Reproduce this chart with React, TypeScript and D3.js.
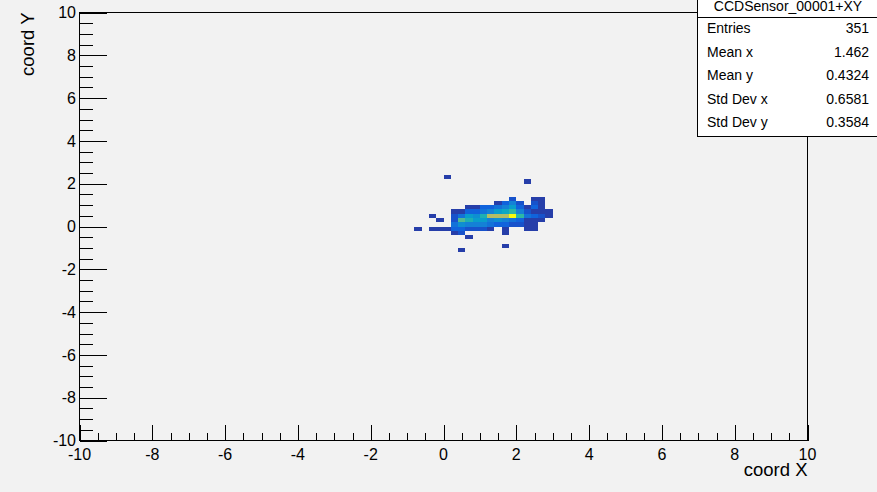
import React from 'react';
import * as d3 from 'd3';

// ---- data (TH2 with 0.2 x 0.2 bins) ----
const binWidth = 0.2;
const rowY = [2.2, 2.0, 1.2, 1.0, 0.8, 0.6, 0.4, 0.2, 0.0, -0.2, -0.4, -0.6, -1.0, -1.2];
const rowXs = [
  [0.0],
  [2.2],
  [1.8, 2.4, 2.6],
  [1.4, 1.6, 1.8, 2.0, 2.4, 2.6],
  [0.6, 0.8, 1.0, 1.2, 1.4, 1.6, 1.8, 2.0, 2.2, 2.4, 2.6],
  [0.2, 0.4, 0.6, 0.8, 1.0, 1.2, 1.4, 1.6, 1.8, 2.0, 2.2, 2.4, 2.6, 2.8],
  [-0.4, 0.2, 0.4, 0.6, 0.8, 1.0, 1.2, 1.4, 1.6, 1.8, 2.0, 2.2, 2.4, 2.6, 2.8],
  [-0.2, 0.2, 0.4, 0.6, 0.8, 1.0, 1.2, 1.4, 1.6, 1.8, 2.0, 2.2, 2.4, 2.6],
  [0.2, 0.4, 0.6, 0.8, 1.0, 1.2, 1.4, 1.6, 1.8, 2.0, 2.2, 2.4],
  [-0.8, -0.4, -0.2, 0.0, 0.2, 0.4, 0.6, 0.8, 1.0, 1.2, 1.6, 2.2, 2.4],
  [0.2, 0.4, 1.6],
  [0.6],
  [1.6],
  [0.4],
];
const rowCounts = [
  [1],
  [1],
  [2, 1, 1],
  [1, 3, 5, 2, 2, 1],
  [1, 1, 3, 3, 4, 5, 7, 3, 1, 3, 1],
  [1, 1, 3, 3, 4, 5, 7, 8, 10, 5, 2, 1, 1, 1],
  [1, 2, 4, 7, 6, 9, 15, 15, 15, 22, 10, 4, 3, 2, 1],
  [1, 2, 11, 9, 7, 7, 5, 6, 5, 4, 3, 1, 1, 1],
  [4, 6, 5, 5, 5, 4, 3, 3, 2, 2, 1, 1],
  [1, 1, 1, 1, 3, 3, 2, 2, 2, 1, 1, 1, 1],
  [1, 2, 1],
  [1],
  [1],
  [1],
];

const xTicks = [-10, -8, -6, -4, -2, 0, 2, 4, 6, 8, 10];
const yTicks = [-10, -8, -6, -4, -2, 0, 2, 4, 6, 8, 10];
const histTitle = 'CCDSensor_00001+XY';
const statLabels = ['Entries', 'Mean x', 'Mean y', 'Std Dev x', 'Std Dev y'];
const statValues = ['351', '1.462', '0.4324', '0.6581', '0.3584'];
const xTitle = 'coord X';
const yTitle = 'coord Y';

// ROOT kBird palette stops
const birdStops = [0, 0.125, 0.25, 0.375, 0.5, 0.625, 0.75, 0.875, 1];
const birdColors = [
  'rgb(53,42,135)', 'rgb(15,92,221)', 'rgb(20,129,214)', 'rgb(6,164,202)',
  'rgb(46,183,164)', 'rgb(135,191,119)', 'rgb(209,187,89)', 'rgb(254,200,50)', 'rgb(249,251,14)',
];

const FONT = "'Liberation Sans', Arial, Helvetica, sans-serif";

export default function App() {
  const W = 877, H = 492;
  const L = 79.5, R = 807.5, T = 12.5, B = 440.5;
  const x = d3.scaleLinear().domain([-10, 10]).range([L, R]);
  const y = d3.scaleLinear().domain([-10, 10]).range([B, T]);

  const cells: { x: number; y: number; c: number }[] = [];
  rowY.forEach((yy, i) => {
    rowXs[i].forEach((xx, j) => cells.push({ x: xx, y: yy, c: rowCounts[i][j] }));
  });
  const zmax = d3.max(cells, (d) => d.c) as number;
  const ndiv = 20;
  const pal = d3.scaleLinear<string>().domain(birdStops).range(birdColors).interpolate(d3.interpolateRgb);
  const color = (c: number) => {
    let lvl = Math.floor(0.01 + (c * ndiv) / zmax);
    if (lvl >= ndiv) lvl = ndiv - 1;
    return pal((lvl + 0.99) / ndiv);
  };

  const minorX: number[] = [];
  for (let v = -10; v <= 10.001; v += 0.5) if (Math.abs(v - Math.round(v / 2) * 2) > 1e-6) minorX.push(v);
  const minorY = minorX;

  const statRowY = [33, 57, 80, 104, 127];

  return (
    <svg width={W} height={H} style={{ position: 'absolute', left: 0, top: 0, display: 'block' }} fontFamily={FONT}>
      <rect x={0} y={0} width={W} height={H} fill="#f2f2f2" />
      {/* cells */}
      <g shapeRendering="crispEdges">
        {cells.map((d, i) => (
          <rect
            key={i}
            x={x(d.x)}
            y={y(d.y + binWidth)}
            width={x(d.x + binWidth) - x(d.x)}
            height={y(d.y) - y(d.y + binWidth)}
            fill={color(d.c)}
          />
        ))}
      </g>
      {/* frame */}
      <rect x={L} y={T} width={R - L} height={B - T} fill="none" stroke="#000" strokeWidth={1} shapeRendering="crispEdges" />
      {/* ticks */}
      <g stroke="#000" strokeWidth={1} shapeRendering="crispEdges">
        {xTicks.map((t) => (
          <line key={'xM' + t} x1={Math.round(x(t)) + 0.5} x2={Math.round(x(t)) + 0.5} y1={B} y2={B - 16} />
        ))}
        {minorX.map((t) => (
          <line key={'xm' + t} x1={Math.round(x(t)) + 0.5} x2={Math.round(x(t)) + 0.5} y1={B} y2={B - 8} />
        ))}
        {yTicks.map((t) => (
          <line key={'yM' + t} y1={Math.round(y(t)) + 0.5} y2={Math.round(y(t)) + 0.5} x1={L} x2={L + 27} />
        ))}
        {minorY.map((t) => (
          <line key={'ym' + t} y1={Math.round(y(t)) + 0.5} y2={Math.round(y(t)) + 0.5} x1={L} x2={L + 13.5} />
        ))}
      </g>
      {/* tick labels */}
      <g fontSize={16} fill="#000">
        {xTicks.map((t) => (
          <text key={'xl' + t} x={x(t)} y={460} textAnchor="middle">{t}</text>
        ))}
        {yTicks.map((t) => (
          <text key={'yl' + t} x={76} y={y(t) + 5.7} textAnchor="end">{t}</text>
        ))}
      </g>
      {/* axis titles */}
      <text x={R} y={476} textAnchor="end" fontSize={18.5} fill="#000">{xTitle}</text>
      <text transform={`translate(34,${T}) rotate(-90)`} textAnchor="end" fontSize={18.5} fill="#000">{yTitle}</text>
      {/* stats box */}
      <g>
        <rect x={697.5} y={-1} width={182} height={137.5} fill="#ffffff" stroke="#000" strokeWidth={1} shapeRendering="crispEdges" />
        <line x1={697.5} x2={877} y1={17.5} y2={17.5} stroke="#000" strokeWidth={1} shapeRendering="crispEdges" />
        <text x={788} y={10.5} textAnchor="middle" fontSize={14} fill="#000">{histTitle}</text>
        {statLabels.map((s, i) => (
          <text key={'sl' + i} x={707} y={statRowY[i]} fontSize={14} fill="#000">{s}</text>
        ))}
        {statValues.map((s, i) => (
          <text key={'sv' + i} x={869} y={statRowY[i]} textAnchor="end" fontSize={14} fill="#000">{s}</text>
        ))}
      </g>
    </svg>
  );
}
